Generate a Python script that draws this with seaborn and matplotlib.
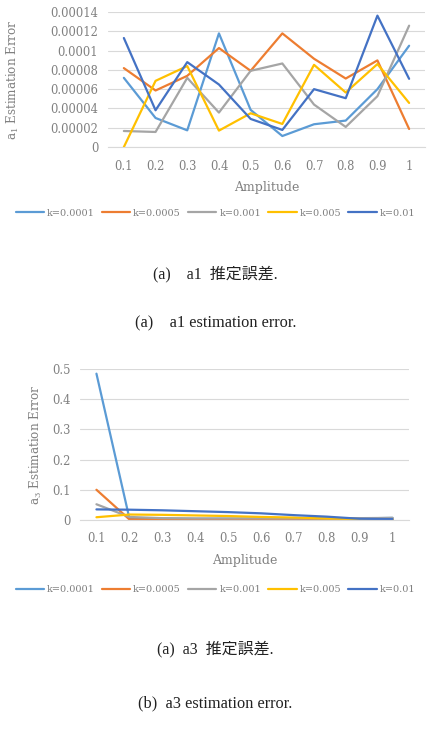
import numpy as np
import pandas as pd
import matplotlib
matplotlib.use("Agg")
import matplotlib.pyplot as plt
import seaborn as sns

# ---- data ----
amplitude = [0.1, 0.2, 0.3, 0.4, 0.5, 0.6, 0.7, 0.8, 0.9, 1.0]
x_labels = ["0.1", "0.2", "0.3", "0.4", "0.5", "0.6", "0.7", "0.8", "0.9", "1"]
k_labels = ["k=0.0001", "k=0.0005", "k=0.001", "k=0.005", "k=0.01"]

a1_k00001 = [0.0000717, 0.0000301, 0.0000173, 0.0001178, 0.0000385, 0.0000114, 0.0000236, 0.0000274, 0.0000600, 0.0001050]
a1_k00005 = [0.0000818, 0.0000586, 0.0000738, 0.0001026, 0.0000790, 0.0001178, 0.0000915, 0.0000710, 0.0000898, 0.0000187]
a1_k0001 = [0.0000166, 0.0000156, 0.0000717, 0.0000357, 0.0000790, 0.0000866, 0.0000440, 0.0000208, 0.0000527, 0.0001258]
a1_k0005 = [0.0000000, 0.0000686, 0.0000839, 0.0000170, 0.0000350, 0.0000239, 0.0000852, 0.0000565, 0.0000860, 0.0000457]
a1_k001 = [0.0001130, 0.0000381, 0.0000880, 0.0000648, 0.0000291, 0.0000177, 0.0000600, 0.0000506, 0.0001362, 0.0000707]

a3_k00001 = [0.4845, 0.006, 0.005, 0.004, 0.004, 0.004, 0.004, 0.004, 0.005, 0.007]
a3_k00005 = [0.100, 0.002, 0.002, 0.002, 0.002, 0.002, 0.002, 0.002, 0.002, 0.002]
a3_k0001 = [0.052, 0.010, 0.006, 0.005, 0.005, 0.005, 0.005, 0.005, 0.006, 0.007]
a3_k0005 = [0.009, 0.018, 0.017, 0.015, 0.013, 0.010, 0.008, 0.005, 0.003, 0.002]
a3_k001 = [0.035, 0.034, 0.032, 0.029, 0.026, 0.022, 0.016, 0.011, 0.004, 0.003]

a1_ticks = [0, 0.00002, 0.00004, 0.00006, 0.00008, 0.0001, 0.00012, 0.00014]
a1_ticklabels = ["0", "0.00002", "0.00004", "0.00006", "0.00008", "0.0001", "0.00012", "0.00014"]
a3_ticks = [0, 0.1, 0.2, 0.3, 0.4, 0.5]
a3_ticklabels = ["0", "0.1", "0.2", "0.3", "0.4", "0.5"]

colors = ["#5B9BD5", "#ED7D31", "#A5A5A5", "#FFC000", "#4472C4"]
text_grey = "#808080"


def to_long(series):
    rows = []
    for lab, vals in zip(k_labels, series):
        for a, v in zip(amplitude, vals):
            rows.append({"Amplitude": a, "k": lab, "err": v})
    return pd.DataFrame(rows)


df_a1 = to_long([a1_k00001, a1_k00005, a1_k0001, a1_k0005, a1_k001])
df_a3 = to_long([a3_k00001, a3_k00005, a3_k0001, a3_k0005, a3_k001])

sns.set_style("white")
plt.rcParams["font.family"] = ["DejaVu Serif"]
plt.rcParams["mathtext.fontset"] = "dejavuserif"

fig = plt.figure(figsize=(4.31, 7.34), dpi=100)
ax1 = fig.add_axes([0.2506, 0.7997, 0.7354, 0.1840])
ax2 = fig.add_axes([0.1856, 0.2916, 0.7634, 0.2057])


def style_axis(ax, df, ticks, ticklabels, ylabel, ylabel_x, legend_y):
    sns.lineplot(data=df, x="Amplitude", y="err", hue="k", palette=colors,
                 linewidth=1.6, ax=ax, legend=False)
    ax.set_xlim(0.05, 1.05)
    ax.set_ylim(ticks[0], ticks[-1])
    ax.set_xticks(amplitude)
    ax.set_xticklabels(x_labels)
    ax.set_yticks(ticks)
    ax.set_yticklabels(ticklabels)
    ax.tick_params(axis="both", length=0, labelsize=8.3, colors=text_grey)
    ax.tick_params(axis="x", pad=9)
    ax.tick_params(axis="y", pad=7)
    ax.grid(axis="y", color="#D9D9D9", linewidth=0.8)
    ax.set_axisbelow(True)
    for s in ["top", "right", "left"]:
        ax.spines[s].set_visible(False)
    ax.spines["bottom"].set_color("#D9D9D9")
    ax.set_xlabel("Amplitude", fontsize=9, color=text_grey, labelpad=6)
    ax.set_ylabel(ylabel, fontsize=8.6, color=text_grey)
    ax.yaxis.set_label_coords(ylabel_x, 0.5)
    handles = [plt.Line2D([], [], color=c, linewidth=1.6) for c in colors]
    ax.legend(handles, k_labels, loc="center", ncol=5, frameon=False,
              fontsize=7.0, handlelength=2.9, handletextpad=0.3,
              columnspacing=0.75, labelcolor=text_grey,
              bbox_to_anchor=(0.5, 1 - legend_y / 734), bbox_transform=fig.transFigure)


style_axis(ax1, df_a1, a1_ticks, a1_ticklabels, r"a$_1$ Estimation Error", -0.274, 213)
style_axis(ax2, df_a3, a3_ticks, a3_ticklabels, r"a$_3$ Estimation Error", -0.109, 590)

cap_font = ["Liberation Serif", "Noto Sans CJK JP"]
fig.text(0.5, 1 - 274 / 734, "(a)\u3000a1  推定誤差.", ha="center", va="center",
         fontsize=11.5, family=cap_font, color="#222222")
fig.text(0.5, 1 - 323 / 734, "(a)\u3000a1 estimation error.", ha="center", va="center",
         fontsize=11.8, family=cap_font, color="#222222")
fig.text(0.5, 1 - 649 / 734, "(a)  a3  推定誤差.", ha="center", va="center",
         fontsize=11.5, family=cap_font, color="#222222")
fig.text(0.5, 1 - 703 / 734, "(b)  a3 estimation error.", ha="center", va="center",
         fontsize=11.8, family=cap_font, color="#222222")

fig.savefig("out.png", dpi=100)
